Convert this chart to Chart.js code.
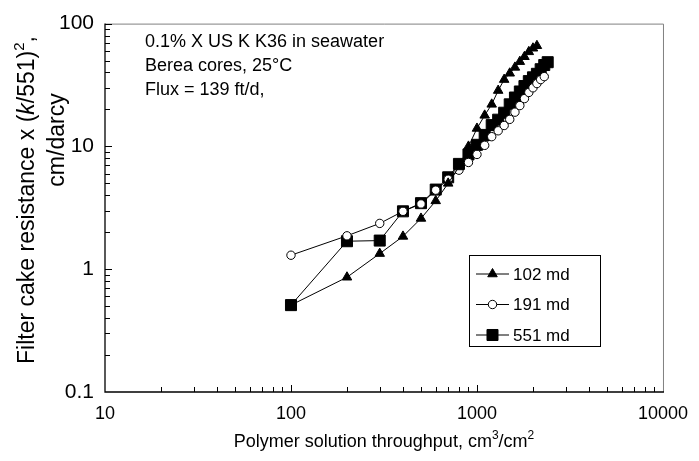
<!DOCTYPE html>
<html><head><meta charset="utf-8">
<script src="https://cdn.jsdelivr.net/npm/chart.js@4"></script>
<style>html,body{margin:0;padding:0;background:#fff}</style>
</head><body>
<canvas id="c" width="699" height="461"></canvas>
<script>
// ---- data ----
const seriesLabels = ['102 md', '191 md', '551 md'];
const throughput102 = [100,200,300,400,500,600,700,800,900,1000,1100,1200,1300,1400,1500,1600,1700,1800,1900,2000,2100];
const resistance102 = [0.51,0.86,1.34,1.85,2.59,3.6,5.0,6.8,10.0,14.0,17.9,22,28.5,35,39.4,44,49,53.7,58.9,63,66];
const throughput191 = [100,200,300,400,500,600,700,800,900,1000,1100,1200,1300,1400,1500,1600,1700,1800,1900,2000,2100,2200,2300];
const resistance191 = [1.3,1.87,2.36,2.96,3.4,4.4,5.4,6.4,7.4,8.6,10.2,12.0,13.4,14.8,16.6,19,21.5,24.5,27.5,30,32.5,35,37];
const throughput551 = [100,200,300,400,500,600,700,800,900,1000,1100,1200,1300,1400,1500,1600,1700,1800,1900,2000,2100,2200,2300,2400];
const resistance551 = [0.51,1.69,1.71,2.96,3.45,4.45,5.6,7.2,8.6,10.3,12.4,14.9,16.5,18.8,22,25,28,31,34,36.5,39,42.5,46,48.5];
const xTickValues = [10,100,1000,10000];
const xTickLabels = ['10','100','1000','10000'];
const yTickValues = [0.1,1,10,100];
const yTickLabels = ['0.1','1','10','100'];
const annotationLines = ['0.1% X US K K36 in seawater', 'Berea cores, 25°C', 'Flux = 139 ft/d,'];

const FONT = "'Liberation Sans', Arial, sans-serif";
const FS_X = 18, FS_Y = 21, FS_YT = 23, FS_ANN = 18, FS_LEG = 17;

function pts(xs, ys){ return xs.map((x,i)=>({x:x, y:ys[i]})); }

function drawRich(ctx, segs, x, y, size){
  const fontOf = s => s==='i' ? `italic ${size}px ${FONT}` : s==='sup' ? `${Math.round(size*0.66)}px ${FONT}` : `${size}px ${FONT}`;
  let total = 0;
  segs.forEach(([t,s])=>{ ctx.font = fontOf(s); total += ctx.measureText(t).width; });
  let cx = x - total/2;
  ctx.textAlign = 'left';
  ctx.textBaseline = 'alphabetic';
  segs.forEach(([t,s])=>{
    ctx.font = fontOf(s);
    ctx.fillText(t, cx, s==='sup' ? y - size*0.45 : y);
    cx += ctx.measureText(t).width;
  });
}

const decor = {
  id: 'decor',
  beforeDatasetsDraw(chart){
    const {ctx, chartArea:a, scales:{x, y}} = chart;
    ctx.save();
    ctx.lineWidth = 1;
    ctx.strokeStyle = '#808080';
    ctx.beginPath();
    ctx.moveTo(a.left, a.top+0.5); ctx.lineTo(a.right+0.5, a.top+0.5); ctx.lineTo(a.right+0.5, a.bottom);
    ctx.stroke();
    ctx.strokeStyle = '#000';
    ctx.lineWidth = 1.3;
    ctx.beginPath();
    ctx.moveTo(a.left, a.top); ctx.lineTo(a.left, a.bottom); ctx.lineTo(a.right+1, a.bottom);
    ctx.stroke();
    ctx.lineWidth = 1;
    ctx.beginPath();
    for (let d = 10; d < 10000; d *= 10) {
      for (let m = 1; m <= 9; m++) {
        const v = d*m;
        if (v <= 10) continue;
        const px = Math.round(x.getPixelForValue(v)) + 0.5;
        const len = m === 1 ? 7 : 5;
        ctx.moveTo(px, a.bottom); ctx.lineTo(px, a.bottom - len);
      }
    }
    for (let d = 0.1; d < 100; d *= 10) {
      for (let m = 1; m <= 9; m++) {
        const v = d*m;
        if (m === 1 && d < 0.5) continue;
        const py = Math.round(y.getPixelForValue(v)) + 0.5;
        const len = m === 1 ? 7 : 5;
        ctx.moveTo(a.left, py); ctx.lineTo(a.left + len, py);
      }
    }
    const pyTop = Math.round(y.getPixelForValue(100)) + 0.5;
    ctx.moveTo(a.left, pyTop); ctx.lineTo(a.left + 7, pyTop);
    ctx.stroke();
    ctx.restore();
  },
  afterDraw(chart){
    const {ctx, chartArea:a} = chart;
    ctx.save();
    ctx.fillStyle = '#000';
    ctx.font = `${FS_ANN}px ${FONT}`;
    ctx.textAlign = 'left';
    ctx.textBaseline = 'middle';
    annotationLines.forEach((t,i)=> ctx.fillText(t, 145, 42 + i*24));
    drawRich(ctx, [['Polymer solution throughput, cm','n'],['3','sup'],['/cm','n'],['2','sup']], (a.left+a.right)/2, 447, FS_X);
    ctx.save();
    ctx.translate(34, 0);
    ctx.rotate(-Math.PI/2);
    drawRich(ctx, [['Filter cake resistance x (','n'],['k','i'],['/551)','n'],['2','sup'],[',','n']], -200, 0, FS_YT);
    ctx.restore();
    ctx.save();
    ctx.translate(64, 0);
    ctx.rotate(-Math.PI/2);
    drawRich(ctx, [['cm/darcy','n']], -140, 0, FS_YT);
    ctx.restore();
    const lx = 469.5, ly = 255.5, lw = 131, lh = 91;
    ctx.fillStyle = '#fff';
    ctx.fillRect(lx, ly, lw, lh);
    ctx.strokeStyle = '#000';
    ctx.lineWidth = 1;
    ctx.strokeRect(lx, ly, lw, lh);
    chart.data.datasets.forEach((ds, i)=>{
      const yy = 274 + i*30.5;
      ctx.strokeStyle = '#000';
      ctx.lineWidth = 1;
      ctx.beginPath(); ctx.moveTo(476, yy); ctx.lineTo(509, yy); ctx.stroke();
      ctx.fillStyle = ds.pointBackgroundColor;
      ctx.strokeStyle = '#000';
      Chart.helpers.drawPoint(ctx, {pointStyle: ds.pointStyle, radius: ds.pointRadius, rotation: 0, borderWidth: 1}, 492.5, yy);
      ctx.fillStyle = '#000';
      ctx.font = `${FS_LEG}px ${FONT}`;
      ctx.textAlign = 'left';
      ctx.textBaseline = 'middle';
      ctx.fillText(ds.label, 513, yy + 1);
    });
    ctx.restore();
  }
};

new Chart(document.getElementById('c'), {
  type: 'line',
  data: {
    datasets: [
      { label: seriesLabels[0], data: pts(throughput102, resistance102), borderColor:'#000', borderWidth:1,
        pointStyle:'triangle', pointRadius:5.5, pointBackgroundColor:'#000', pointBorderColor:'#000', pointBorderWidth:1, fill:false, tension:0 },
      { label: seriesLabels[1], data: pts(throughput191, resistance191), borderColor:'#000', borderWidth:1,
        pointStyle:'circle', pointRadius:4.2, pointBackgroundColor:'#fff', pointBorderColor:'#000', pointBorderWidth:1, fill:false, tension:0 },
      { label: seriesLabels[2], data: pts(throughput551, resistance551), borderColor:'#000', borderWidth:1,
        pointStyle:'rect', pointRadius:7.8, pointBackgroundColor:'#000', pointBorderColor:'#000', pointBorderWidth:1, fill:false, tension:0 }
    ]
  },
  options: {
    responsive: false,
    animation: false,
    devicePixelRatio: 1,
    layout: { padding: { top: 14, right: 29, left: 0, bottom: 0 } },
    plugins: { legend: { display: false }, tooltip: { enabled: false } },
    scales: {
      x: {
        type: 'logarithmic', min: 10, max: 10000,
        grid: { display: false, drawTicks: false }, border: { display: false },
        afterBuildTicks: s => { s.ticks = xTickValues.map(v => ({ value: v })); },
        afterFit: s => { s.height = 69; },
        ticks: { color:'#000', font:{ family: FONT, size: FS_X }, padding: 11, maxRotation: 0, autoSkip: false,
          callback: (v, i) => xTickLabels[i] }
      },
      y: {
        type: 'logarithmic', min: 0.1, max: 100,
        grid: { display: false, drawTicks: false }, border: { display: false },
        afterBuildTicks: s => { s.ticks = yTickValues.map(v => ({ value: v })); },
        afterFit: s => { s.width = 105; },
        ticks: { color:'#000', font:{ family: FONT, size: FS_Y }, padding: 11, autoSkip: false,
          callback: (v, i) => yTickLabels[i] }
      }
    }
  },
  plugins: [decor]
});
</script>
</body></html>
